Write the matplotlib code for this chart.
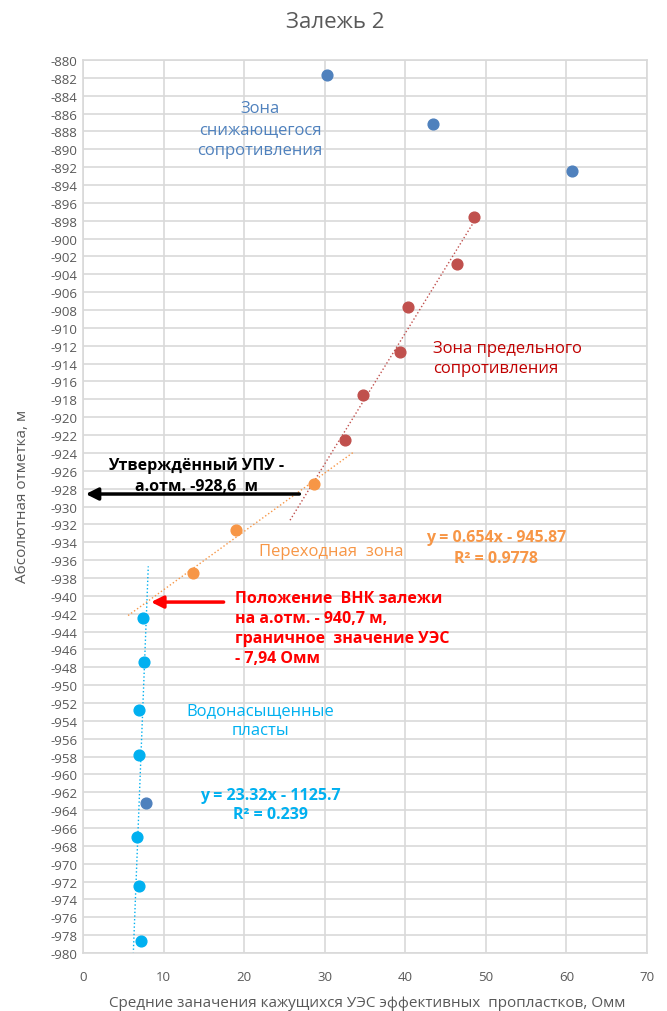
import numpy as np
import matplotlib.pyplot as plt

# data
blue_x = [30.3, 43.5, 60.7, 7.8]
blue_y = [-881.7, -887.2, -892.4, -963.2]
red_x = [48.5, 46.4, 40.3, 39.3, 34.8, 32.5]
red_y = [-897.6, -902.8, -907.7, -912.7, -917.5, -922.6]
orange_x = [28.7, 19.0, 13.7]
orange_y = [-927.5, -932.6, -937.5]
water_x = [7.4, 7.6, 7.0, 7.0, 6.7, 7.0, 7.2]
water_y = [-942.5, -947.4, -952.8, -957.8, -967.0, -972.5, -978.7]

# trend lines (coefficients as printed on the chart)
orange_k, orange_b = 0.654, -945.87
water_k, water_b = 23.32, -1125.7

plt.rcParams['font.family'] = ['Open Sans', 'DejaVu Sans']
plt.rcParams['axes.unicode_minus'] = False
gray = '#595959'

fig = plt.figure(figsize=(6.67, 10.12), dpi=100)
ax = fig.add_axes([0.1244, 0.0573, 0.8456, 0.8824])
ax.set_xlim(0, 70)
ax.set_ylim(-980, -880)
ax.set_xticks(np.arange(0, 71, 10))
ax.set_yticks(np.arange(-980, -879, 2))
ax.grid(True, color='#d9d9d9', linewidth=1.2)
ax.set_axisbelow(True)
for s in ax.spines.values():
    s.set_color('#d9d9d9')
    s.set_linewidth(1.2)
ax.tick_params(length=0, colors=gray, labelsize=9.5, pad=4)
ax.tick_params(axis='x', pad=12, labelsize=9.5)

# trend lines
rk, rb = np.polyfit(red_x, red_y, 1)
xr = np.array([25.7, max(red_x)])
ax.plot(xr, rk * xr + rb, ':', color='#c0504d', lw=1)
xo = np.array([5.6, 33.6])
ax.plot(xo, orange_k * xo + orange_b, ':', color='#f79646', lw=1)
yw = np.array([-985, -936.7])
ax.plot((yw - water_b) / water_k, yw, ':', color='#00b0f0', lw=1)

ms = 60
ax.scatter(blue_x, blue_y, s=ms, color='#4f81bd', zorder=3)
ax.scatter(red_x, red_y, s=ms, color='#c0504d', zorder=3)
ax.scatter(orange_x, orange_y, s=ms, color='#f79646', zorder=3)
ax.scatter(water_x, water_y, s=ms, color='#00b0f0', zorder=3)

# arrows
ax.annotate('', xy=(0, -928.6), xytext=(27.2, -928.6),
            arrowprops=dict(arrowstyle='-|>', color='black', lw=2.5, mutation_scale=18))
ax.annotate('', xy=(8.1, -940.7), xytext=(17.8, -940.7),
            arrowprops=dict(arrowstyle='-|>', color='#ff0000', lw=2.5, mutation_scale=18))

# labels
reg, bold = 12, 11.5
ax.text(22.0, -887.7, 'Зона\nснижающегося\nсопротивления', color='#4f81bd',
        ha='center', va='center', fontsize=reg, linespacing=1.4)
ax.text(43.5, -913.4, 'Зона предельного\nсопротивления', color='#c00000',
        ha='left', va='center', fontsize=reg, linespacing=1.35)
ax.text(14.1, -926.5, 'Утверждённый УПУ -\nа.отм. -928,6  м', color='black',
        ha='center', va='center', fontsize=bold, fontweight='bold', linespacing=1.4)
ax.text(21.8, -935.0, 'Переходная  зона', color='#f79646',
        ha='left', va='center', fontsize=reg)
ax.text(51.3, -934.6, 'y = 0.654x - 945.87\nR² = 0.9778', color='#f79646',
        ha='center', va='center', fontsize=bold, fontweight='bold', linespacing=1.35)
ax.text(18.9, -943.6, 'Положение  ВНК залежи\nна а.отм. - 940,7 м,\nграничное  значение УЭС\n- 7,94 Омм',
        color='#ff0000', ha='left', va='center', fontsize=bold, fontweight='bold', linespacing=1.35)
ax.text(22.0, -953.9, 'Водонасыщенные\nпласты', color='#00b0f0',
        ha='center', va='center', fontsize=reg, linespacing=1.35)
ax.text(23.3, -963.4, 'y = 23.32x - 1125.7\nR² = 0.239', color='#00b0f0',
        ha='center', va='center', fontsize=bold, fontweight='bold', linespacing=1.25)

fig.text(0.502, 0.978, 'Залежь 2', color=gray, ha='center', va='center', fontsize=16)
fig.text(0.033, 0.509, 'Абсолютная отметка, м', color=gray, rotation=90,
         ha='center', va='center', fontsize=11)
fig.text(0.55, 0.008, 'Средние заначения кажущихся УЭС эффективных  пропластков, Омм',
         color=gray, ha='center', va='center', fontsize=11)

fig.savefig('out.png', dpi=100)
